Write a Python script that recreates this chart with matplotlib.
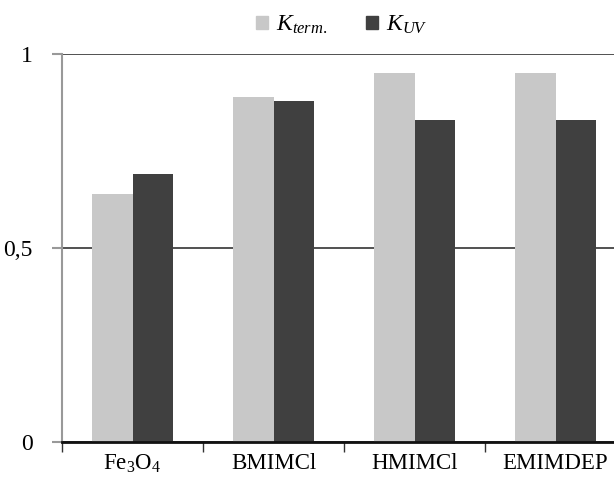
import matplotlib
matplotlib.use("Agg")
import matplotlib.pyplot as plt
import numpy as np
from matplotlib.patches import Patch

categories = [r"Fe$_3$O$_4$", "BMIMCl", "HMIMCl", "EMIMDEP"]
k_term = [0.64, 0.89, 0.95, 0.95]
k_uv = [0.69, 0.88, 0.83, 0.83]
series_labels = [r"$K_{term.}$", r"$K_{UV}$"]
y_ticks = [0, 0.5, 1]
y_tick_labels = ["0", "0,5", "1"]

plt.rcParams["font.family"] = ["Liberation Serif", "DejaVu Serif"]
plt.rcParams["mathtext.fontset"] = "custom"
plt.rcParams["mathtext.rm"] = "Liberation Serif"
plt.rcParams["mathtext.it"] = "Liberation Serif:italic"

light = "#c8c8c8"
dark = "#404040"

fig = plt.figure(figsize=(6.14, 4.79), dpi=100)
ax = fig.add_axes([62/614, 37/479, 1 - 62/614, (442-54)/479])

x = np.arange(len(categories))
w = 0.29
ax.bar(x - w/2, k_term, w, color=light, zorder=3)
ax.bar(x + w/2, k_uv, w, color=dark, zorder=3)

ax.set_xlim(-0.5, -0.5 + 552/141)
ax.set_ylim(0, 1)
ax.set_yticks(y_ticks)
ax.set_yticklabels(y_tick_labels, fontsize=17)
ax.set_xticks(x)
ax.set_xticklabels(categories, fontsize=16.5)
ax.tick_params(axis="x", length=0, pad=8)
ax.set_xticks(np.arange(len(categories)) - 0.5, minor=True)
ax.tick_params(axis="x", which="minor", length=7, width=1, color="#333333", direction="out")
ax.tick_params(axis="y", length=7, width=1.5, color="#999999", pad=14)

ax.yaxis.grid(True, color="#333333", linewidth=1.2, zorder=0)
ax.set_axisbelow(True)
for s in ["top", "right"]:
    ax.spines[s].set_visible(False)
ax.spines["left"].set_color("#999999")
ax.spines["left"].set_linewidth(1.5)
ax.spines["bottom"].set_color("#111111")
ax.spines["bottom"].set_linewidth(2)
ax.spines["bottom"].set_zorder(5)

handles = [Patch(color=light), Patch(color=dark)]
fig.legend(handles, series_labels, loc="center", bbox_to_anchor=(342/614, 1 - 25/479),
           ncol=2, frameon=False, fontsize=17, handlelength=0.5, handleheight=0.5,
           columnspacing=1.65, handletextpad=0.35)

fig.savefig("out.png", dpi=100)
